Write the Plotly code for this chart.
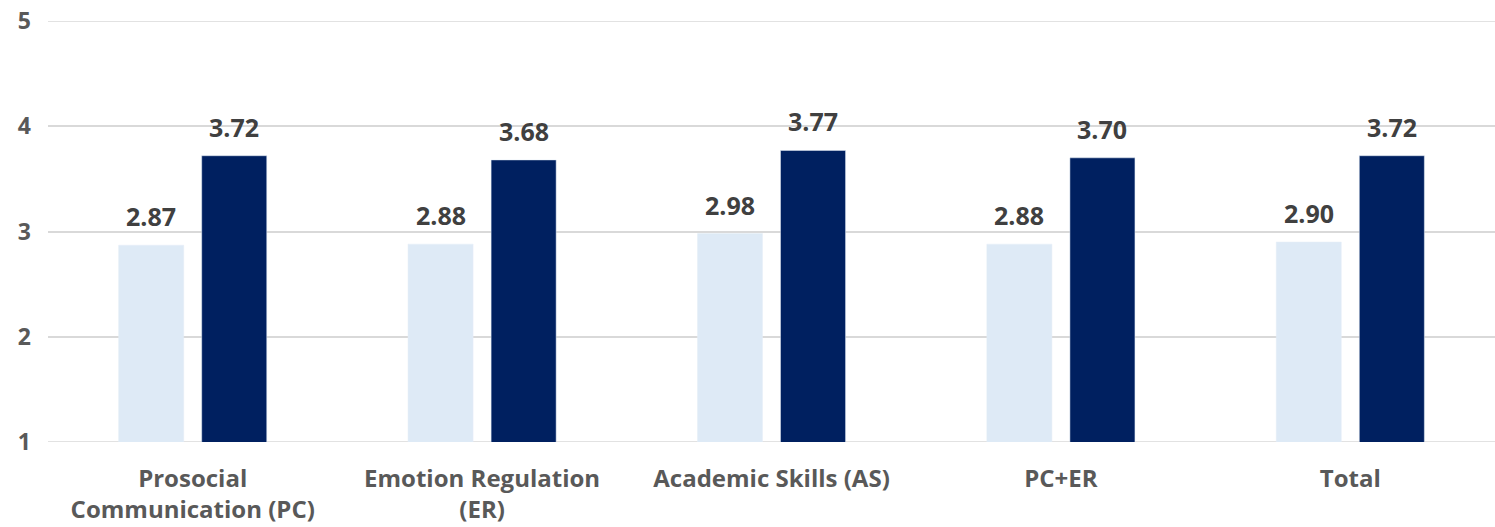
import plotly.graph_objects as go

categories = ["Prosocial<br>Communication (PC)", "Emotion Regulation<br>(ER)",
              "Academic Skills (AS)", "PC+ER", "Total"]
series_a = [2.87, 2.88, 2.98, 2.88, 2.90]
series_b = [3.72, 3.68, 3.77, 3.70, 3.72]
y_ticks = [1, 2, 3, 4, 5]

FONT = "Open Sans"
GRID = "#D9D9D9"
BAR_OFFSET_PX = 41.5  # half the distance between the two bars of a group

fig = go.Figure()
fig.add_trace(go.Bar(x=categories, y=series_a, marker_color="#DEEAF6",
                     showlegend=False))
fig.add_trace(go.Bar(x=categories, y=series_b, marker_color="#002060",
                     showlegend=False))

# value labels above each bar
for values, shift in ((series_a, -BAR_OFFSET_PX), (series_b, BAR_OFFSET_PX)):
    for cat, v in zip(categories, values):
        fig.add_annotation(
            x=cat, y=v, text=f"<b>{v:.2f}</b>", showarrow=False,
            xshift=shift, yshift=10, yanchor="bottom",
            font=dict(family=FONT, size=25, color="#404040"),
        )

# gridlines at the ends of the value range
for yv in (y_ticks[0], y_ticks[-1]):
    fig.add_shape(type="line", xref="paper", x0=0, x1=1, yref="y", y0=yv, y1=yv,
                  line=dict(color=GRID, width=1.5), layer="below")

fig.update_layout(
    width=1495, height=527,
    margin=dict(l=48, r=0, t=21, b=85),
    paper_bgcolor="white", plot_bgcolor="white",
    barmode="group", bargap=0.426, bargroupgap=0.217,
    font=dict(family=FONT, color="#595959"),
    xaxis=dict(
        tickvals=categories,
        ticktext=[f"<b>{c}</b>" for c in categories],
        tickfont=dict(family=FONT, size=24, color="#595959"),
        showgrid=False, showline=False, ticks="", ticklabelstandoff=20,
    ),
    yaxis=dict(
        range=[1, 5], tickvals=y_ticks,
        ticktext=[f"<b>{t}</b>" for t in y_ticks],
        tickfont=dict(family=FONT, size=23, color="#595959"),
        showgrid=True, gridcolor=GRID, gridwidth=1.5,
        zeroline=False, showline=False, ticks="", ticklabelstandoff=16,
    ),
)

fig.write_html("out.html")
